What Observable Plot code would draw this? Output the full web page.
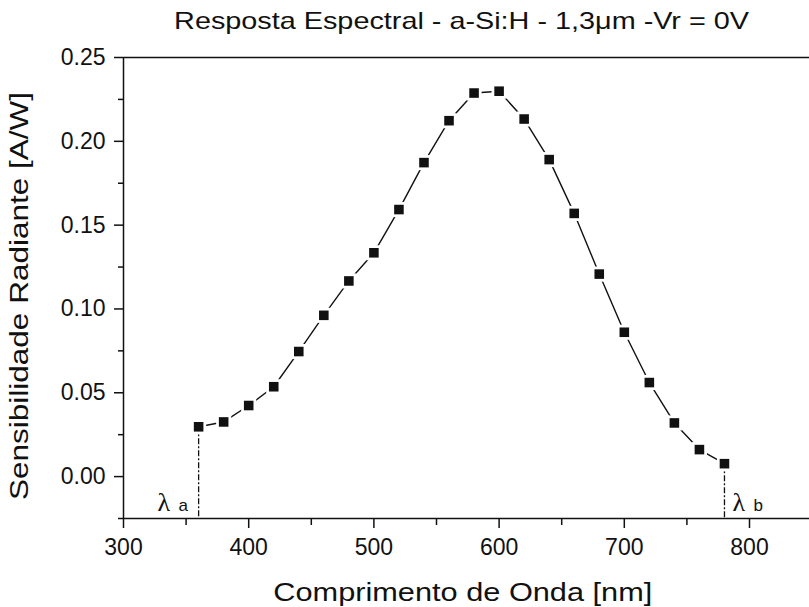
<!DOCTYPE html>
<html><head><meta charset="utf-8">
<script src="https://cdn.jsdelivr.net/npm/d3@7"></script>
<script src="https://cdn.jsdelivr.net/npm/@observablehq/plot@0.6"></script>
<style>
body{margin:0;background:#fff;font-family:"Liberation Sans",Arial,sans-serif;color:#111;}
#title{width:809px;height:40px;box-sizing:border-box;padding-top:9px;padding-left:114px;font-size:24px;line-height:24px;text-align:center;white-space:nowrap;}
#title span{display:inline-block;transform:scaleX(1.2);transform-origin:50% 50%;}
</style></head><body>
<div id="title"><span>Resposta Espectral - a-Si:H - 1,3μm -Vr = 0V</span></div>
<div id="chart"></div>
<script>
// data
const wavelength = [360,380,400,420,440,460,480,500,520,540,560,580,600,620,640,660,680,700,720,740,760,780];
const sensitivity = [0.0297,0.0326,0.0424,0.0536,0.0746,0.0962,0.1167,0.1335,0.1593,0.1873,0.2123,0.2288,0.2299,0.2133,0.1891,0.157,0.1208,0.0861,0.0561,0.032,0.0161,0.0077];
const xTicks = [300,400,500,600,700,800];
const xMinorTicks = [350,450,550,650,750];
const yTicks = [0,0.05,0.10,0.15,0.20,0.25];
const yMinorTicks = [-0.025,0.025,0.075,0.125,0.175,0.225];
const limitWavelengths = [360,780];
const limitSymbols = ["λ","λ"];
const limitSubscripts = ["a","b"];
const xLabel = "Comprimento de Onda [nm]";
const yLabel = "Sensibilidade Radiante [A/W]";

const points = wavelength.map((w,i)=>({w, s: sensitivity[i]}));
const limits = limitWavelengths.map((w,i)=>({w, s: sensitivity[wavelength.indexOf(w)], sym: limitSymbols[i], sub: limitSubscripts[i]}));
const yMin = -0.025, yMax = 0.25;

const chart = Plot.plot({
  width: 809,
  height: 567,
  marginLeft: 123,
  marginRight: -2.6,
  marginTop: 17,
  marginBottom: 89,
  style: {fontFamily: "'Liberation Sans', Arial, sans-serif", fontSize: "23px", color: "#111", background: "#fff", overflow: "visible"},
  x: {domain: [300, 850], label: null},
  y: {domain: [yMin, yMax], label: null},
  marks: [
    Plot.ruleX(limits, {x: "w", y1: "s", y2: yMin, stroke: "#111", strokeWidth: 1.3, strokeDasharray: "6,2,2,2"}),
    Plot.line(points, {x: "w", y: "s", stroke: "#111", strokeWidth: 1.4}),
    Plot.dot(points, {x: "w", y: "s", symbol: "square", r: 8.5, fill: "#fff", stroke: "none"}),
    Plot.dot(points, {x: "w", y: "s", symbol: "square", r: 5.4, fill: "#111", stroke: "none"}),
    Plot.text(limits.filter(d=>d.sub==="a"), {x: "w", y: yMin, text: "sym", textAnchor: "start", lineAnchor: "bottom", dx: -41, dy: -8, fontSize: 26, fontFamily: "'Liberation Serif', 'Times New Roman', serif", fill: "#111"}),
    Plot.text(limits.filter(d=>d.sub==="a"), {x: "w", y: yMin, text: "sub", textAnchor: "start", lineAnchor: "bottom", dx: -20, dy: -8, fontSize: 17, fill: "#111"}),
    Plot.text(limits.filter(d=>d.sub==="b"), {x: "w", y: yMin, text: "sym", textAnchor: "start", lineAnchor: "bottom", dx: 8, dy: -8, fontSize: 26, fontFamily: "'Liberation Serif', 'Times New Roman', serif", fill: "#111"}),
    Plot.text(limits.filter(d=>d.sub==="b"), {x: "w", y: yMin, text: "sub", textAnchor: "start", lineAnchor: "bottom", dx: 29, dy: -8, fontSize: 17, fill: "#111"}),
    Plot.ruleY([yMax], {stroke: "#111", strokeWidth: 1.5}),
    Plot.ruleY([yMin], {stroke: "#111", strokeWidth: 1.5}),
    Plot.ruleX([300], {stroke: "#111", strokeWidth: 1.5}),
    Plot.axisX(xTicks, {tickSize: 10, tickPadding: 10, tickFormat: d => String(d), fontSize: 23, strokeWidth: 1.5, stroke: "#111", fill: "#111", label: null}),
    Plot.axisX(xMinorTicks, {tickSize: 7, text: null, strokeWidth: 1.5, stroke: "#111", label: null}),
    Plot.axisY(yTicks, {tickSize: 9, tickPadding: 9, tickFormat: d3.format(".2f"), fontSize: 23, strokeWidth: 1.5, stroke: "#111", fill: "#111", label: null}),
    Plot.axisY(yMinorTicks, {tickSize: 5, text: null, strokeWidth: 1.5, stroke: "#111", label: null}),
    Plot.text([xLabel], {frameAnchor: "bottom", text: d => d, textAnchor: "middle", lineAnchor: "bottom", dy: 82.5, dx: -5, fontSize: 25, fill: "#111", className: "xlab"}),
    Plot.text([yLabel], {frameAnchor: "left", text: d => d, rotate: -90, textAnchor: "middle", lineAnchor: "middle", dx: -104, dy: 8, fontSize: 25, fill: "#111", className: "ylab"})
  ]
});
d3.select(chart).selectAll(".xlab text").attr("textLength", 379).attr("lengthAdjust", "spacingAndGlyphs");
d3.select(chart).selectAll(".ylab text").attr("textLength", 408).attr("lengthAdjust", "spacingAndGlyphs");
document.getElementById("chart").appendChild(chart);
</script>
</body></html>
